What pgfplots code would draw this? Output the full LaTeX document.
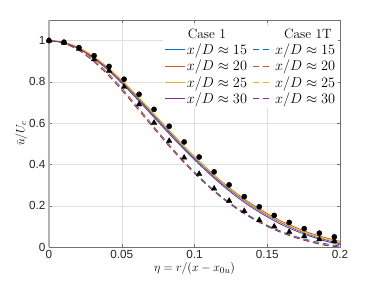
\documentclass[border=0pt]{standalone}
\usepackage{pgfplots}
\pgfplotsset{compat=1.18}
\usepackage{fontspec}
\newfontfamily\ticksf{Liberation Sans}
\definecolor{mblue}{rgb}{0,0.447,0.741}
\definecolor{morange}{rgb}{0.85,0.325,0.098}
\definecolor{myellow}{rgb}{0.929,0.694,0.125}
\definecolor{mpurple}{rgb}{0.494,0.184,0.556}
\definecolor{axgray}{rgb}{0.15,0.15,0.15}
\pgfplotstableread{
x s15 s20 s25 s30 d15 d20 d25 d30
0.00 1.000 1.000 1.000 1.000 1.000 1.000 1.000 1.000
0.01 0.991 0.992 0.992 0.990 0.990 0.989 0.989 0.988
0.02 0.965 0.967 0.968 0.962 0.959 0.958 0.957 0.955
0.03 0.922 0.925 0.927 0.918 0.910 0.908 0.907 0.903
0.04 0.866 0.870 0.873 0.861 0.846 0.843 0.842 0.837
0.05 0.800 0.805 0.808 0.794 0.770 0.767 0.765 0.760
0.06 0.728 0.734 0.737 0.721 0.687 0.684 0.682 0.677
0.07 0.652 0.659 0.662 0.645 0.601 0.598 0.596 0.592
0.08 0.576 0.583 0.585 0.568 0.517 0.514 0.512 0.509
0.09 0.501 0.509 0.510 0.494 0.437 0.434 0.432 0.430
0.10 0.430 0.438 0.438 0.423 0.363 0.360 0.358 0.357
0.11 0.363 0.371 0.369 0.356 0.296 0.293 0.291 0.291
0.12 0.301 0.309 0.306 0.294 0.237 0.234 0.232 0.232
0.13 0.246 0.254 0.250 0.238 0.186 0.183 0.181 0.181
0.14 0.197 0.205 0.200 0.189 0.142 0.139 0.137 0.137
0.15 0.154 0.162 0.157 0.146 0.105 0.102 0.100 0.100
0.16 0.116 0.124 0.119 0.108 0.075 0.072 0.070 0.069
0.17 0.084 0.093 0.087 0.077 0.050 0.047 0.045 0.044
0.18 0.057 0.066 0.060 0.051 0.031 0.027 0.025 0.024
0.19 0.035 0.045 0.039 0.029 0.016 0.011 0.009 0.008
0.20 0.016 0.027 0.020 0.010 0.004 0.000 0.000 0.000
}\lines
\pgfplotstableread{
x c t
0.0000 1.000 1.000
0.0103 0.992 0.990
0.0206 0.966 0.960
0.0310 0.927 0.910
0.0413 0.875 0.854
0.0516 0.813 0.776
0.0619 0.740 0.691
0.0722 0.667 0.602
0.0826 0.585 0.514
0.0929 0.509 0.433
0.1032 0.436 0.354
0.1135 0.364 0.283
0.1238 0.301 0.224
0.1342 0.244 0.174
0.1445 0.195 0.130
0.1548 0.153 0.099
0.1651 0.119 0.073
0.1754 0.089 0.052
0.1858 0.067 0.037
0.1961 0.049 0.029
}\marks
\begin{document}
\begin{tikzpicture}
\path[use as bounding box] (0,0) rectangle (376bp,282bp);
\begin{axis}[
  at={(49bp,35bp)}, anchor=south west,
  scale only axis, width=291bp, height=227bp,
  xmin=0, xmax=0.2, ymin=0, ymax=1.1,
  xtick={0,0.05,0.1,0.15,0.2},
  xticklabels={0,0.05,0.1,0.15,0.2},
  ytick={0,0.2,0.4,0.6,0.8,1},
  yticklabels={0,0.2,0.4,0.6,0.8,1},
  extra x ticks={0},
  extra x tick labels={},
  extra x tick style={grid style={color=axgray!35, line width=1.6pt}, major tick length=0pt},
  tick align=inside, tick pos=both,
  major tick length=3bp,
  grid=major,
  grid style={color=black!12, line width=0.4pt},
  axis line style={color=axgray!65, line width=0.5pt},
  every tick/.style={color=axgray!65},
  ticklabel style={font=\ticksf\fontsize{11.8}{13}\selectfont, color=axgray},
  xlabel={$\eta = r/(x - x_{0u})$},
  ylabel={$\bar{u}/U_c$},
  label style={font=\fontsize{13}{14}\selectfont},
  xlabel style={yshift=3bp},
  ylabel style={yshift=-5bp},
  legend columns=2,
  legend cell align=left,
  legend style={draw=none, fill=white, at={(0.993,0.975)}, anchor=north east,
    font=\fontsize{13.5}{15}\selectfont, inner sep=1bp, row sep=0bp,
    nodes={inner xsep=1.5bp},
    /tikz/every even column/.append style={column sep=4bp}},
  legend image code/.code={\draw[#1, line width=1pt] (0bp,0bp) -- (20bp,0bp);},
  clip=true,
]
\addlegendimage{empty legend}\addlegendentry{\rule[-4bp]{0pt}{4bp}\hspace{1bp}Case 1}
\addlegendimage{empty legend}\addlegendentry{\rule[-4bp]{0pt}{4bp}\hspace{9bp}Case 1T}
\addplot[color=mblue, line width=0.85pt, smooth] table[x=x,y=s15]{\lines};
\addlegendentry{$x/D \approx 15$}
\addplot[color=mblue, line width=0.85pt, smooth, dash pattern=on 6bp off 4bp] table[x=x,y=d15]{\lines};
\addlegendentry{$x/D \approx 15$}
\addplot[color=morange, line width=0.85pt, smooth] table[x=x,y=s20]{\lines};
\addlegendentry{$x/D \approx 20$}
\addplot[color=morange, line width=0.85pt, smooth, dash pattern=on 6bp off 4bp] table[x=x,y=d20]{\lines};
\addlegendentry{$x/D \approx 20$}
\addplot[color=myellow, line width=0.85pt, smooth] table[x=x,y=s25]{\lines};
\addlegendentry{$x/D \approx 25$}
\addplot[color=myellow, line width=0.85pt, smooth, dash pattern=on 6bp off 4bp] table[x=x,y=d25]{\lines};
\addlegendentry{$x/D \approx 25$}
\addplot[color=mpurple, line width=0.85pt, smooth] table[x=x,y=s30]{\lines};
\addlegendentry{$x/D \approx 30$}
\addplot[color=mpurple, line width=0.85pt, smooth, dash pattern=on 6bp off 4bp] table[x=x,y=d30]{\lines};
\addlegendentry{$x/D \approx 30$}
\addplot[only marks, mark=*, mark size=2.6bp, black, forget plot] table[x=x,y=c]{\marks};
\addplot[only marks, mark=triangle*, mark size=3.2bp, black, forget plot] table[x=x,y=t]{\marks};
\end{axis}
\end{tikzpicture}
\end{document}
